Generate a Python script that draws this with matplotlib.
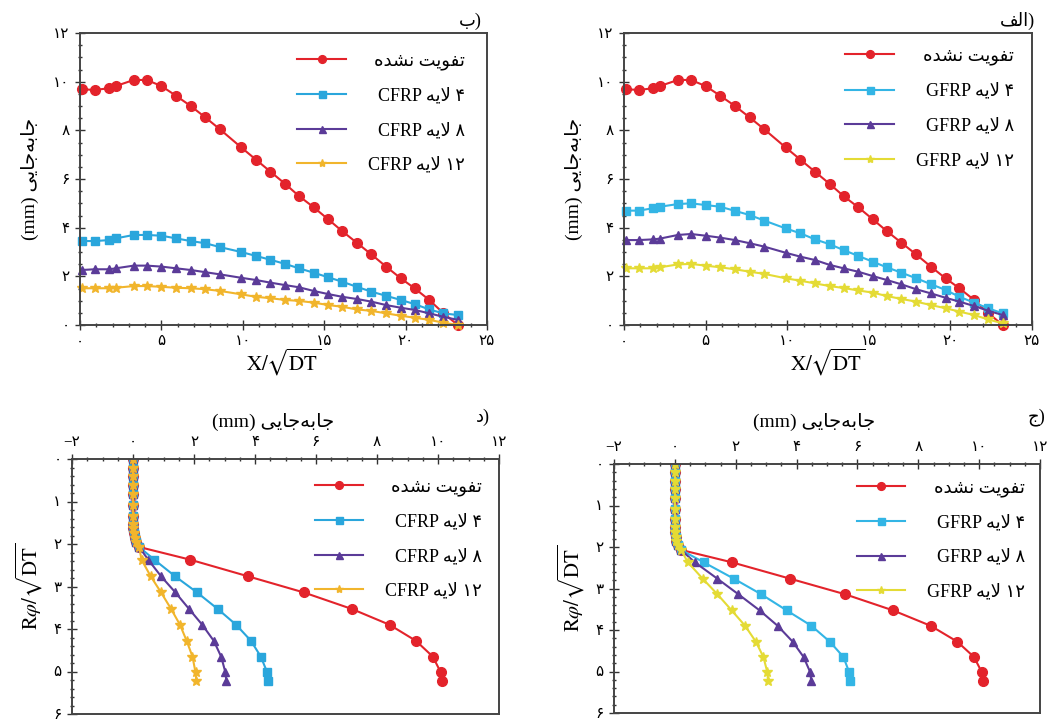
import matplotlib
matplotlib.use('Agg')
import matplotlib.pyplot as plt
from matplotlib.ticker import MultipleLocator, AutoMinorLocator, FuncFormatter

plt.rcParams['font.family'] = ['Liberation Serif', 'DejaVu Sans']
plt.rcParams['mathtext.fontset'] = 'stix'

# ---- data ----------------------------------------------------------------
# displacement along the tunnel axis, X/sqrt(DT)
x_pos = [0.1, 0.9, 1.8, 2.2, 3.3, 4.1, 5.0, 5.9, 6.8, 7.7, 8.6, 9.9, 10.8, 11.7,
         12.6, 13.45, 14.35, 15.25, 16.1, 17.0, 17.9, 18.8, 19.7, 20.55, 21.45,
         22.3, 23.2]
disp_unreinf = [9.69, 9.66, 9.73, 9.82, 10.07, 10.07, 9.82, 9.42, 9.0, 8.53,
                8.04, 7.3, 6.8, 6.3, 5.8, 5.3, 4.84, 4.34, 3.86, 3.38, 2.9,
                2.4, 1.92, 1.51, 1.03, 0.5, 0.0]
disp_cfrp4 = [3.45, 3.45, 3.49, 3.56, 3.70, 3.70, 3.67, 3.56, 3.45, 3.36, 3.2,
              3.0, 2.84, 2.68, 2.51, 2.33, 2.15, 1.96, 1.78, 1.57, 1.37, 1.2,
              1.03, 0.86, 0.64, 0.48, 0.41]
disp_cfrp8 = [2.26, 2.29, 2.29, 2.33, 2.44, 2.44, 2.40, 2.33, 2.26, 2.17, 2.08,
              1.94, 1.85, 1.74, 1.64, 1.55, 1.40, 1.27, 1.16, 1.07, 0.96, 0.82,
              0.71, 0.62, 0.48, 0.34, 0.21]
disp_cfrp12 = [1.51, 1.51, 1.51, 1.53, 1.60, 1.60, 1.57, 1.53, 1.51, 1.47, 1.40,
               1.26, 1.16, 1.10, 1.03, 0.99, 0.92, 0.82, 0.75, 0.64, 0.58, 0.48,
               0.38, 0.30, 0.21, 0.10, 0.0]
disp_gfrp4 = [4.70, 4.70, 4.80, 4.86, 4.97, 5.0, 4.93, 4.86, 4.69, 4.52, 4.29,
              3.97, 3.77, 3.52, 3.32, 3.08, 2.84, 2.60, 2.37, 2.15, 1.92, 1.68,
              1.44, 1.16, 0.92, 0.69, 0.48]
disp_gfrp8 = [3.49, 3.49, 3.52, 3.55, 3.70, 3.74, 3.67, 3.59, 3.49, 3.36, 3.22,
              2.97, 2.81, 2.67, 2.47, 2.33, 2.19, 2.01, 1.85, 1.67, 1.47, 1.30,
              1.12, 0.96, 0.78, 0.59, 0.41]
disp_gfrp12 = [2.33, 2.33, 2.33, 2.37, 2.49, 2.51, 2.44, 2.37, 2.29, 2.19, 2.10,
               1.92, 1.82, 1.71, 1.60, 1.52, 1.42, 1.33, 1.19, 1.07, 0.96, 0.82,
               0.69, 0.55, 0.41, 0.23, 0.07]

# displacement around the lining, R*phi/sqrt(DT)
r_phi = [0.0, 0.2, 0.4, 0.6, 0.83, 1.08, 1.33, 1.52, 1.63, 1.75, 1.86, 1.96,
         2.07, 2.37, 2.76, 3.14, 3.53, 3.9, 4.28, 4.65, 5.02, 5.22]
crown = [0, 0, 0, 0, 0, 0, 0, 0, 0.01, 0.03, 0.05, 0.1, 0.2]
ring_unreinf = crown + [1.88, 3.77, 5.6, 7.18, 8.41, 9.28, 9.83, 10.09, 10.13]
ring_cfrp4 = crown + [0.7, 1.38, 2.1, 2.78, 3.38, 3.87, 4.19, 4.4, 4.42]
ring_cfrp8 = crown + [0.5, 0.92, 1.39, 1.84, 2.27, 2.65, 2.89, 3.03, 3.06]
ring_cfrp12 = crown + [0.28, 0.58, 0.92, 1.25, 1.54, 1.76, 1.95, 2.05, 2.08]
ring_gfrp4 = crown + [0.95, 1.93, 2.84, 3.68, 4.49, 5.09, 5.54, 5.73, 5.76]
ring_gfrp8 = crown + [0.66, 1.39, 2.09, 2.79, 3.38, 3.87, 4.23, 4.45, 4.48]
ring_gfrp12 = crown + [0.43, 0.91, 1.4, 1.87, 2.31, 2.66, 2.91, 3.04, 3.06]

# ---- persian text (pre-shaped, visual order) ------------------------------
UNREINF = '\uFEE9\uFEAA\uFEB8\uFEE7 \uFE96\uFEF3\uFEEE\uFED4\uFE97'
LAYER = '\uFEEA\uFEF3\uFEFB'
DISP = '\uFEF0\uFEF3\uFE8E\uFE9F\uFEEA\uFE91\uFE8E\uFE9F'
DISP_LABEL = '(mm) ' + DISP
FA_DIGITS = str.maketrans('0123456789-', '\u06F0\u06F1\u06F2\u06F3\u06F4'
                          '\u06F5\u06F6\u06F7\u06F8\u06F9\u2212')


def fa(v):
    return ('%g' % v).translate(FA_DIGITS)


def layer_label(n, fiber):
    return '%s %s %s' % (fiber, LAYER, fa(n))


RED = '#e3232b'
CYAN = {'CFRP': '#2aa6dc', 'GFRP': '#33b5e5'}
PURPLE = '#5b3b98'
YELLOW = {'CFRP': '#f1b52c', 'GFRP': '#e4db35'}

W, H = 1054, 722
fig = plt.figure(figsize=(W / 100, H / 100), dpi=100)


def px_axes(left, top, right, bottom):
    return fig.add_axes([left / W, (H - bottom) / H, (right - left) / W,
                         (bottom - top) / H])


def style_axes(ax, xminor, yminor):
    ax.xaxis.set_minor_locator(AutoMinorLocator(xminor))
    ax.yaxis.set_minor_locator(AutoMinorLocator(yminor))
    fmt = FuncFormatter(lambda v, p: fa(int(round(v))))
    ax.xaxis.set_major_formatter(fmt)
    ax.yaxis.set_major_formatter(fmt)
    ax.tick_params(which='both', direction='inout', labelsize=11, pad=4,
                   color='#333333', width=1.0)
    ax.tick_params(which='major', length=7)
    ax.tick_params(which='minor', length=3.5)
    for s in ax.spines.values():
        s.set_linewidth(1.4)
        s.set_color('#444444')


def right_align_legend(leg):
    renderer = fig.canvas.get_renderer()
    rows = [row for col in leg._legend_handle_box.get_children()
            for row in col.get_children()]
    width = max(row.get_bbox(renderer).width for row in rows)
    for row in rows:
        row.mode = 'expand'
        row.width = width


def add_legend(ax, anchor):
    leg = ax.legend(loc='upper right', bbox_to_anchor=anchor, frameon=False,
                    fontsize=13, handlelength=2.7, handletextpad=1.2,
                    labelspacing=0.98, borderaxespad=0, borderpad=0,
                    markerscale=0.8)
    right_align_legend(leg)


def series(fiber, a, b, c, d):
    return [(a, RED, 'o', 7.0, UNREINF),
            (b, CYAN[fiber], 's', 6.3, layer_label(4, fiber)),
            (c, PURPLE, '^', 6.3, layer_label(8, fiber)),
            (d, YELLOW[fiber], '*', 7.5, layer_label(12, fiber))]


def top_panel(box, fiber, curves, tag, tag_x, anchor):
    ax = px_axes(*box)
    for vals, col, mk, ms, lab in series(fiber, *curves):
        ax.plot(x_pos, vals, color=col, marker=mk, ms=ms, mec=col, lw=1.5,
                label=lab, clip_on=False)
    ax.set_xlim(0, 25)
    ax.set_ylim(0, 12)
    ax.xaxis.set_major_locator(MultipleLocator(5))
    ax.yaxis.set_major_locator(MultipleLocator(2))
    style_axes(ax, 5, 4)
    ax.tick_params(top=False, right=False)
    ax.set_xlabel(r'$\mathrm{X}/\sqrt{\mathrm{DT}}$', fontsize=15, labelpad=-1)
    ax.set_ylabel(DISP_LABEL, fontsize=14, labelpad=10)
    add_legend(ax, anchor)
    fig.text(tag_x / W, 1 - 21 / H, tag, fontsize=13, ha='right', va='center')


def bottom_panel(box, fiber, curves, tag, tag_x, anchor):
    ax = px_axes(*box)
    for vals, col, mk, ms, lab in series(fiber, *curves):
        ax.plot(vals, r_phi, color=col, marker=mk, ms=ms, mec=col, lw=1.5,
                label=lab)
    ax.set_xlim(-2, 12)
    ax.set_ylim(6, 0)
    ax.xaxis.set_major_locator(MultipleLocator(2))
    ax.yaxis.set_major_locator(MultipleLocator(1))
    ax.xaxis.tick_top()
    ax.xaxis.set_label_position('top')
    style_axes(ax, 4, 5)
    ax.tick_params(bottom=False, right=False)
    ax.set_xlabel(DISP_LABEL, fontsize=14)
    # put the label baseline just above the tick labels, at a fixed height
    top, bottom = box[1], box[3]
    ax.xaxis.set_label_coords(0.47, 1 + (top - 427) / (bottom - top))
    ax.set_ylabel(r'$\mathrm{R}\varphi/\sqrt{\mathrm{DT}}$', fontsize=15,
                  labelpad=6)
    add_legend(ax, anchor)
    fig.text(tag_x / W, 1 - 417 / H, tag, fontsize=13, ha='right',
             va='center')


top_panel((80, 33, 487, 325), 'CFRP',
          (disp_unreinf, disp_cfrp4, disp_cfrp8, disp_cfrp12),
          '\uFE8F)', 482, (0.945, 0.935))
top_panel((624, 33, 1032, 325), 'GFRP',
          (disp_unreinf, disp_gfrp4, disp_gfrp8, disp_gfrp12),
          '\uFED2\uFEDF\uFE8D)', 1035, (0.955, 0.95))
bottom_panel((72, 459, 499, 714), 'CFRP',
             (ring_unreinf, ring_cfrp4, ring_cfrp8, ring_cfrp12),
             '\uFEA9)', 490, (0.96, 0.925))
bottom_panel((614, 464, 1040, 713), 'GFRP',
             (ring_unreinf, ring_gfrp4, ring_gfrp8, ring_gfrp12),
             '\uFE9D)', 1045, (0.965, 0.94))

fig.savefig('out.png', dpi=100)
